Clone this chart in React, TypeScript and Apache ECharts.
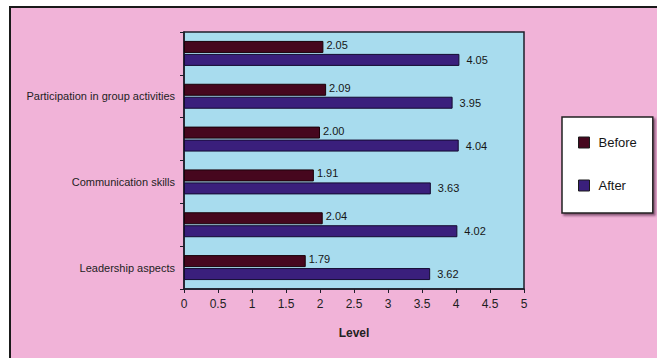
import React, { useEffect, useRef } from "react";
import * as echarts from "echarts";

// Skills, top to bottom (every second row carries a label)
const categories = [
  "",
  "Participation in group activities",
  "",
  "Communication skills",
  "",
  "Leadership aspects",
];
const beforeValues = [2.05, 2.09, 2.0, 1.91, 2.04, 1.79];
const afterValues = [4.05, 3.95, 4.04, 3.63, 4.02, 3.62];
const seriesNames = ["Before", "After"];

const FONT = "'Liberation Sans', Arial, sans-serif";

export default function App() {
  const ref = useRef<HTMLDivElement>(null);

  useEffect(() => {
    if (!ref.current) return;
    const chart = echarts.init(ref.current, null, { renderer: "svg" });
    const valueLabel = (dist: number, dy: number) => ({
      show: true,
      position: "right" as const,
      distance: dist,
      offset: [0, dy],
      fontFamily: FONT,
      fontSize: 11,
      color: "#161616",
      formatter: (p: any) => Number(p.value).toFixed(2),
    });
    chart.setOption({
      animation: false,
      backgroundColor: "transparent",
      textStyle: { fontFamily: FONT },
      grid: {
        left: 184,
        top: 32,
        right: 133,
        bottom: 69,
        show: true,
        backgroundColor: "#a8dcee",
        borderColor: "#1e1e2a",
        borderWidth: 1.5,
      },
      legend: {
        orient: "vertical",
        left: 562,
        top: 117,
        data: seriesNames,
        icon: "rect",
        itemWidth: 11,
        itemHeight: 11,
        itemGap: 30,
        padding: [19, 16, 21, 16],
        backgroundColor: "#ffffff",
        borderColor: "#222",
        borderWidth: 1.5,
        shadowColor: "rgba(60,20,50,0.6)",
        shadowOffsetX: 2,
        shadowOffsetY: 2,
        shadowBlur: 2,
        itemStyle: { borderColor: "#1a1a1a", borderWidth: 1 },
        textStyle: {
          fontFamily: FONT,
          fontSize: 13,
          color: "#161616",
          padding: [0, 0, 0, 4],
        },
      },
      xAxis: {
        type: "value",
        min: 0,
        max: 5,
        interval: 0.5,
        name: "Level",
        nameLocation: "middle",
        nameGap: 38,
        nameTextStyle: {
          fontFamily: FONT,
          fontSize: 12,
          fontWeight: "bold",
          color: "#222",
        },
        axisLine: { show: true, lineStyle: { color: "#1e1e2a", width: 1.5 } },
        axisTick: { show: true, length: 4, lineStyle: { color: "#1e1e2a" } },
        axisLabel: {
          fontFamily: FONT,
          fontSize: 12,
          color: "#1e1e1e",
          margin: 9,
        },
        splitLine: { show: false },
      },
      yAxis: {
        type: "category",
        data: categories,
        inverse: true,
        axisLine: { show: true, lineStyle: { color: "#1e1e2a", width: 1.5 } },
        axisTick: { show: true, length: 4, lineStyle: { color: "#1e1e2a" } },
        axisLabel: {
          fontFamily: FONT,
          fontSize: 11,
          color: "#1e1e1e",
          margin: 9,
          interval: 0,
        },
        splitLine: { show: false },
      },
      series: [
        {
          name: seriesNames[0],
          type: "bar",
          data: beforeValues,
          barWidth: 12,
          barGap: "8%",
          itemStyle: { color: "#46071e", borderColor: "#1a0008", borderWidth: 1 },
          label: valueLabel(3, -2),
        },
        {
          name: seriesNames[1],
          type: "bar",
          data: afterValues,
          barWidth: 12,
          itemStyle: { color: "#3a1f7c", borderColor: "#140a30", borderWidth: 1 },
          label: valueLabel(7, 0),
        },
      ],
    });
    return () => chart.dispose();
  }, []);

  return (
    <div
      style={{
        position: "absolute",
        left: 0,
        top: 0,
        width: 657,
        height: 358,
        background: "#ffffff",
        overflow: "hidden",
      }}
    >
      <div
        style={{
          position: "absolute",
          left: 9,
          top: 6,
          width: 660,
          height: 360,
          background: "#f1b3d8",
          borderLeft: "2px solid #1a1a1a",
          borderTop: "2px solid #1a1a1a",
        }}
      />
      <div
        ref={ref}
        style={{ position: "absolute", left: 0, top: 0, width: 657, height: 358 }}
      />
    </div>
  );
}
